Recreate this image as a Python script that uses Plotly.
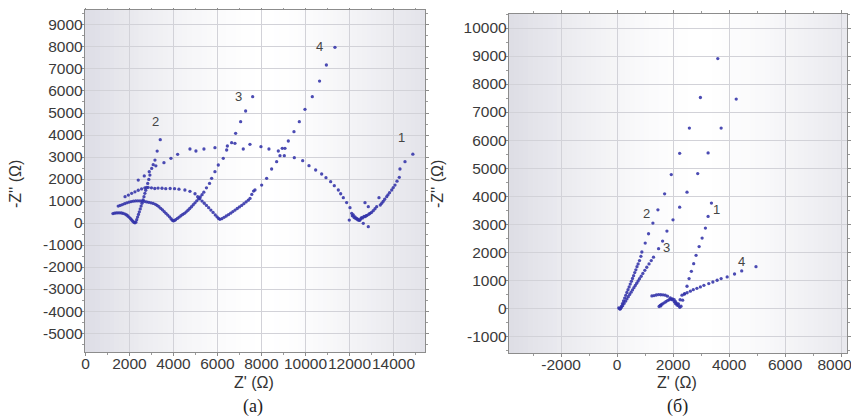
import plotly.graph_objects as go

# ---------------- data: panel (a) ----------------
a1_x = [2400, 2674, 2900, 3200, 3568, 3886, 4190, 4750, 5022, 5386, 5886, 6450, 6795, 7173, 7477, 7977,
        8340, 8765, 8945, 9038, 9492, 9873, 10160, 10462, 10735, 10932, 11144, 11310, 11492, 11600,
        11720, 11870, 12023, 12100, 11990, 12130, 12173, 12210, 12250, 12290, 12327, 12370, 12400,
        12440, 12477, 12520, 12550, 12600, 12627, 12660, 12705, 12705, 12760, 12800, 12855, 12855,
        12880, 12932, 13000, 13080, 13160, 13236, 13340, 13400, 13464, 13530, 13600, 13690, 13750,
        13820, 13918, 13990, 14068, 14160, 14264, 14295, 14523, 14880]
a1_y = [1950, 2140, 2330, 2600, 2742, 2939, 3121, 3364, 3273, 3364, 3424, 3500, 3621, 3364, 3576, 3470,
        3364, 3273, 3394, 3061, 2970, 2833, 2606, 2409, 2227, 2061, 1879, 1697, 1500, 1330,
        1152, 930, 697, 440, 136, 330, 364, 250, 280, 200, 212, 150, 170,
        120, 136, 200, 250, 230, -15, 300, 288, 924, 330, 350, 742, -167,
        400, 440, 480, 560, 650, 742, 1152, 820, 894, 980, 1080, 1197, 1280,
        1380, 1500, 1610, 1727, 1900, 2076, 2455, 2788, 3130]

a2_x = [1250, 1320, 1400, 1480, 1560, 1640, 1720, 1800, 1870, 1930, 1990, 2050, 2100, 2150, 2200, 2250,
        2290, 2330, 2370, 2410, 2450, 2490, 2530, 2570, 2620, 2660, 2700, 2740, 2780, 2830, 2880,
        2930, 3010, 3080, 3160, 3260, 3400]
a2_y = [430, 450, 460, 465, 465, 455, 435, 405, 365, 320, 260, 200, 140, 85, 35, 10,
        40, 150, 270, 390, 510, 640, 770, 900, 1050, 1200, 1350, 1490, 1620, 1800, 1980,
        2180, 2480, 2650, 2860, 3270, 3790]

a3_x = [1490, 1580, 1680, 1780, 1880, 1980, 2080, 2180, 2280, 2380, 2480, 2580, 2680, 2780, 2880, 2980,
        3080, 3180, 3260, 3340, 3420, 3500, 3580, 3660, 3740, 3820, 3890, 3950, 3990, 4040, 4100,
        4180, 4260, 4340, 4420, 4500, 4580, 4660, 4740, 4820, 4900, 4980, 5060, 5140, 5220, 5300,
        5380, 5500, 5640, 5735, 5886, 6038, 6265, 6417, 6644, 6826, 7053, 7280, 7600]
a3_y = [770, 800, 840, 880, 920, 950, 975, 995, 1005, 1010, 1005, 995, 980, 960, 940, 920,
        890, 850, 800, 740, 670, 600, 520, 440, 360, 280, 200, 130, 100, 110, 150,
        210, 270, 330, 390, 440, 510, 580, 660, 740, 830, 920, 1010, 1100, 1190, 1290,
        1400, 1600, 1800, 2030, 2333, 2636, 2940, 3318, 3651, 4076, 4606, 5091, 5742]

a4_x = [1800, 1950, 2100, 2250, 2400, 2550, 2700, 2850, 3000, 3150, 3300, 3480, 3650, 3850, 4050, 4250,
        4520, 4750, 4980, 5100, 5200, 5300, 5400, 5500, 5600, 5700, 5800, 5900, 5980, 6050, 6110,
        6200, 6300, 6400, 6500, 6600, 6700, 6800, 6900, 7000, 7100, 7200, 7300, 7400, 7480, 7560,
        7640, 7705, 8008, 8235, 8462, 8690, 8841, 9068, 9220, 9477, 9720, 9977, 10310, 10640,
        10950, 11340]
a4_y = [1200, 1270, 1350, 1420, 1490, 1550, 1600, 1620, 1600, 1570, 1590, 1580, 1560, 1570, 1560, 1540,
        1500, 1440, 1330, 1200, 1100, 1000, 900, 800, 700, 590, 480, 370, 280, 210, 170,
        200, 260, 320, 380, 450, 520, 590, 660, 730, 800, 880, 960, 1040, 1120, 1300,
        1450, 1500, 1727, 2030, 2455, 2788, 3061, 3394, 3727, 4152, 4606, 5167, 5742, 6450,
        7180, 7985]

# ---------------- data: panel (б) ----------------
b1_x = [1500, 1540, 1580, 1560, 1620, 1680, 1740, 1800, 1860, 1920, 1980, 2040, 2090, 2140, 2190, 2240,
        2283, 2341, 2413, 2497, 2570, 2652, 2735, 2820, 2930, 3036, 3154, 3250, 3369]
b1_y = [60, 100, 130, 80, 150, 190, 230, 270, 300, 320, 330, 300, 230, 160, 90, 30,
        71, 285, 522, 783, 1056, 1317, 1590, 1886, 2200, 2502, 2858, 3274, 3750]

b2_x = [60, 90, 120, 150, 190, 230, 270, 310, 350, 390, 430, 470, 510, 550, 590, 630, 670, 710, 750,
        800, 850, 884, 1004, 1123, 1279, 1458, 1697, 1935, 2234, 2581, 2975, 3596]
b2_y = [10, -20, -10, 60, 160, 260, 360, 460, 560, 660, 760, 860, 960, 1060, 1160, 1270, 1370, 1480, 1580,
        1700, 1850, 2005, 2325, 2657, 3036, 3512, 4081, 4769, 5527, 6430, 7520, 8909]

b3_x = [110, 150, 200, 250, 300, 350, 400, 450, 500, 550, 600, 650, 700, 750, 800, 860, 920, 990, 1060,
        1140, 1220, 1300, 1481, 1625, 1780, 1996, 2234, 2497, 2879, 3250, 3716, 4254]
b3_y = [-30, 20, 90, 170, 250, 330, 410, 490, 570, 650, 730, 810, 890, 970, 1050, 1140, 1240, 1350, 1460,
        1580, 1700, 1820, 2124, 2396, 2752, 3155, 3606, 4140, 4804, 5540, 6430, 7462]

b4_x = [1243, 1320, 1400, 1481, 1560, 1640, 1720, 1800, 1900, 1970, 2043, 2090, 2139, 2190, 2250, 2318,
        2400, 2500, 2616, 2720, 2850, 2975, 3100, 3273, 3420, 3572, 3716, 3931, 4194, 4450, 4960]
b4_y = [438, 450, 470, 487, 480, 475, 463, 430, 367, 300, 225, 160, 110, 150, 300, 463,
        500, 550, 605, 660, 710, 759, 815, 878, 935, 996, 1056, 1115, 1220, 1330, 1480]

# series labels
a_lab_text = ["1", "2", "3", "4"]
a_lab_x = [14370, 3180, 6947, 10620]
a_lab_y = [3890, 4605, 5742, 8030]
b_lab_text = ["1", "2", "3", "4"]
b_lab_x = [3560, 1039, 1770, 4433]
b_lab_y = [3540, 3370, 2182, 1673]

a_xticks = [0, 2000, 4000, 6000, 8000, 10000, 12000, 14000]
a_yticks = list(range(-5000, 10000, 1000))
b_xticks = [-2000, 0, 2000, 4000, 6000, 8000]
b_yticks = list(range(-1000, 11000, 1000))

# ---------------- figure ----------------
# the page body has an 8px margin, so lay out in screen pixels minus that offset
OFF = 8
W, H = 859 - OFF, 419 - OFF
fig = go.Figure()
MARK = dict(color="#3232a8", size=3.3, opacity=0.88)

for xs, ys in [(a1_x, a1_y), (a2_x, a2_y), (a3_x, a3_y), (a4_x, a4_y)]:
    fig.add_trace(go.Scatter(x=xs, y=ys, mode="markers", marker=MARK, xaxis="x", yaxis="y",
                             showlegend=False, hoverinfo="skip"))
for xs, ys in [(b1_x, b1_y), (b2_x, b2_y), (b3_x, b3_y), (b4_x, b4_y)]:
    fig.add_trace(go.Scatter(x=xs, y=ys, mode="markers", marker=MARK, xaxis="x2", yaxis="y2",
                             showlegend=False, hoverinfo="skip"))

def px_dom(a, b):
    return [(a - OFF) / W, (b - OFF) / W]

def py_dom(top, bottom):
    return [1 - (bottom - OFF) / H, 1 - (top - OFF) / H]

tickfont = dict(family="Liberation Sans, Arial, sans-serif", size=15.5, color="#3a3a3a")
axis_common = dict(showgrid=True, gridcolor="#d2d2d8", gridwidth=1, zeroline=False,
                   showline=True, linecolor="#8c8c8c", linewidth=1.4, mirror="ticks",
                   ticks="outside", ticklen=3, tickcolor="#8c8c8c", tickfont=tickfont,
                   automargin=False, tickangle=0, ticklabeloverflow="allow",
                   minor=dict(ticks="outside", ticklen=2, tickcolor="#9a9a9a", showgrid=False))

# last label of panel (б) sits slightly left of its tick in the original (padded with nbsp)
b_xtext = [str(v) for v in b_xticks]
b_xtext[-1] = b_xtext[-1] + "\u00a0\u00a0\u00a0"

fig.update_layout(
    width=W, height=H, margin=dict(l=0, r=0, t=0, b=0),
    paper_bgcolor="white", plot_bgcolor="white", template="none",
    xaxis=dict(domain=px_dom(85, 425), range=[-20, 15432], tickvals=a_xticks,
               ticktext=[str(v) for v in a_xticks], anchor="y", **axis_common),
    yaxis=dict(domain=py_dom(10, 352), range=[-5860, 9680], tickvals=a_yticks,
               ticktext=[str(v) for v in a_yticks], anchor="x", **axis_common),
    xaxis2=dict(domain=px_dom(509, 847), range=[-3860, 8210], tickvals=b_xticks,
                ticktext=b_xtext, anchor="y2", **axis_common),
    yaxis2=dict(domain=py_dom(14, 353), range=[-1600, 10500], tickvals=b_yticks,
                ticktext=[str(v) for v in b_yticks], anchor="x2", **axis_common),
)
fig.update_xaxes(minor=dict(dtick=1000, tick0=0), ticklabelstandoff=-6)
fig.update_yaxes(minor=dict(dtick=500, tick0=0), ticklabelstandoff=-5)

# background gradient (style only)
shapes = []
N = 70
for xr, yr, c in [("x domain", "y domain", 0.53), ("x2 domain", "y2 domain", 0.565)]:
    span = max(c, 1 - c)
    for i in range(N):
        f0, f1 = i / N, (i + 1) / N
        d = abs((f0 + f1) / 2 - c) / span
        k = d ** 1.5
        r = int(round(255 - 34 * k))
        b = int(round(255 - 26 * k))
        shapes.append(dict(type="rect", xref=xr, yref=yr, x0=f0, x1=f1 + 0.002, y0=0, y1=1,
                           fillcolor=f"rgb({r},{r},{b})", line=dict(width=0), layer="below"))
fig.update_layout(shapes=shapes)

ann = []
labfont = dict(family="Liberation Sans, Arial, sans-serif", size=13, color="#444444")
for t, x, y in zip(a_lab_text, a_lab_x, a_lab_y):
    ann.append(dict(text=t, x=x, y=y, xref="x", yref="y", showarrow=False, font=labfont))
for t, x, y in zip(b_lab_text, b_lab_x, b_lab_y):
    ann.append(dict(text=t, x=x, y=y, xref="x2", yref="y2", showarrow=False, font=labfont))

titlefont = dict(family="Liberation Sans, Arial, sans-serif", size=16, color="#333333")
serif = dict(family="Liberation Serif, Times New Roman, serif", size=18, color="#222222")
def P(px, py):
    return (px - OFF) / W, 1 - (py - OFF) / H
for (px, py, txt, fnt, ang) in [
    (254, 382, "Z' (Ω)", titlefont, 0),
    (677, 382, "Z' (Ω)", titlefont, 0),
    (253, 406, "(a)", serif, 0),
    (677, 406, "(б)", serif, 0),
    (16, 184, "-Z'' (Ω)", titlefont, -90),
    (438, 184, "-Z'' (Ω)", titlefont, -90),
]:
    x, y = P(px, py)
    ann.append(dict(text=txt, x=x, y=y, xref="paper", yref="paper", showarrow=False,
                    font=fnt, textangle=ang, xanchor="center", yanchor="middle"))
fig.update_layout(annotations=ann)

fig.write_html("out.html")
